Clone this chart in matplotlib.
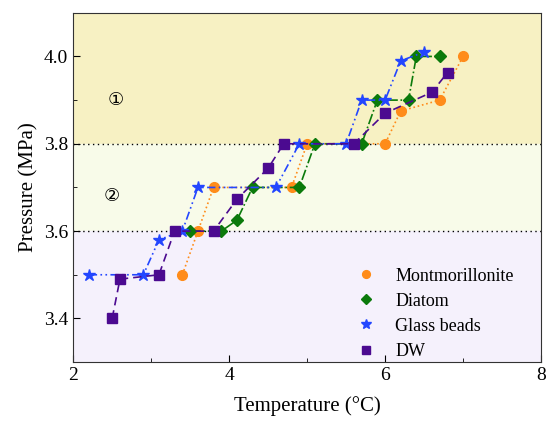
import matplotlib.pyplot as plt
from matplotlib.ticker import MultipleLocator

plt.rcParams["font.family"] = ["Liberation Serif", "DejaVu Serif"]
plt.rcParams["xtick.direction"] = "in"
plt.rcParams["ytick.direction"] = "in"

# Montmorillonite
mont_t = [3.4, 3.6, 3.8, 4.8, 5.0, 6.0, 6.2, 6.7, 7.0]
mont_p = [3.5, 3.6, 3.7, 3.7, 3.8, 3.8, 3.875, 3.9, 4.0]

# Diatom
diat_t = [3.5, 3.9, 4.1, 4.3, 4.9, 5.1, 5.7, 5.9, 6.3, 6.4, 6.7]
diat_p = [3.6, 3.6, 3.625, 3.7, 3.7, 3.8, 3.8, 3.9, 3.9, 4.0, 4.0]

# Glass beads
glass_t = [2.2, 2.9, 3.1, 3.4, 3.6, 4.6, 4.9, 5.5, 5.7, 6.0, 6.2, 6.5]
glass_p = [3.5, 3.5, 3.58, 3.6, 3.7, 3.7, 3.8, 3.8, 3.9, 3.9, 3.99, 4.01]

# DW
dw_t = [2.5, 2.6, 3.1, 3.3, 3.8, 4.1, 4.5, 4.7, 5.6, 6.0, 6.6, 6.8]
dw_p = [3.4, 3.49, 3.5, 3.6, 3.6, 3.673, 3.744, 3.8, 3.8, 3.87, 3.918, 3.963]

fig = plt.figure(figsize=(5.46, 4.26), dpi=100)
ax = fig.add_axes([0.134, 0.150, 0.857, 0.820])

ax.set_xlim(2, 8)
ax.set_ylim(3.3, 4.1)

# background zones
ax.axhspan(3.8, 4.1, color="#f7f1c3", zorder=0)
ax.axhspan(3.6, 3.8, color="#f8fbe9", zorder=0)
ax.axhspan(3.3, 3.6, color="#f5f1fc", zorder=0)
ax.axhline(3.8, color="black", ls=(0, (1, 2.5)), lw=1, zorder=1)
ax.axhline(3.6, color="black", ls=(0, (1, 2.5)), lw=1, zorder=1)

ax.plot(mont_t, mont_p, color="#ff8c1a", ls=":", lw=1.2, marker="o", ms=7,
        label="Montmorillonite", zorder=3)
ax.plot(diat_t, diat_p, color="#0b7a0b", ls="-.", lw=1.2, marker="D", ms=6.5,
        label="Diatom", zorder=3)
ax.plot(glass_t, glass_p, color="#2346ff", ls=(0, (5, 2, 1, 2, 1, 2)), lw=1.2,
        marker="*", ms=9, label="Glass beads", zorder=3)
ax.plot(dw_t, dw_p, color="#4b0a90", ls=(0, (5, 3)), lw=1.2, marker="s", ms=7,
        label="DW", zorder=3)

ax.text(2.54, 3.9, "①", fontsize=13, ha="center", va="center", family=["DejaVu Sans"])
ax.text(2.5, 3.68, "②", fontsize=13, ha="center", va="center", family=["DejaVu Sans"])

ax.xaxis.set_major_locator(MultipleLocator(2))
ax.xaxis.set_minor_locator(MultipleLocator(1))
ax.yaxis.set_major_locator(MultipleLocator(0.2))
ax.yaxis.set_minor_locator(MultipleLocator(0.1))
ax.yaxis.set_major_formatter(plt.FormatStrFormatter("%.1f"))
ax.tick_params(which="major", length=5, labelsize=14)
ax.tick_params(which="minor", length=3)
for s in ax.spines.values():
    s.set_color("#333333")

ax.set_xlabel("Temperature (°C)", fontsize=15, labelpad=9)
ax.set_ylabel("Pressure (MPa)", fontsize=15, labelpad=4)

leg = ax.legend(loc="lower left", bbox_to_anchor=(0.58, -0.03), borderaxespad=0.3,
                frameon=False, fontsize=13, handlelength=1, markerscale=0.8,
                handletextpad=1.1, labelspacing=0.45)
for h in leg.legend_handles:
    h.set_linestyle("none")

plt.savefig("out.png", dpi=100)
